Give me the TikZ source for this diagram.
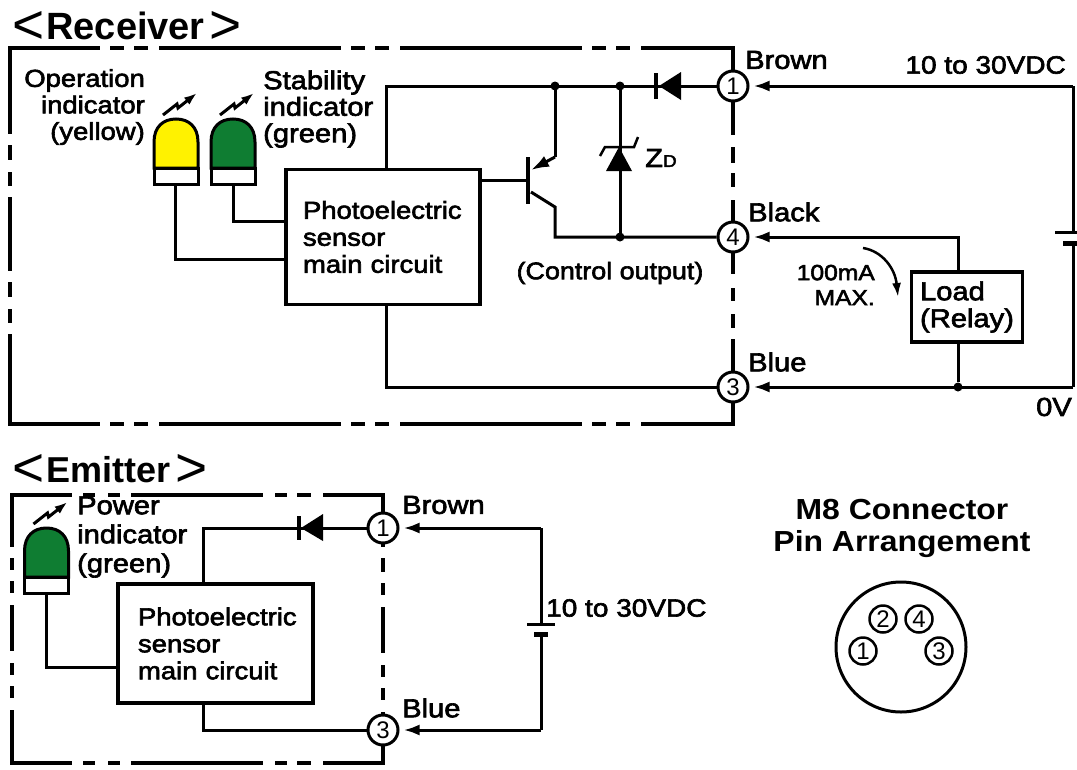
\documentclass[tikz,border=0pt]{standalone}
\usepackage{fontspec}
\setmainfont{Liberation Sans}
\newfontfamily\wide[FakeStretch=1.12,FakeBold=2.5]{Liberation Sans}
\newfontfamily\heavy[FakeStretch=1.1,UprightFont={* Bold}]{Liberation Sans}
\usetikzlibrary{arrows.meta,calc,positioning}
\definecolor{ledgreen}{RGB}{15,125,50}
\tikzset{
        rim/.style = {draw, line width=3.5pt, line cap=rect},
        wire/.style = {draw, line width=3pt},
        feed/.style = {wire, -{Latex[length=16pt,width=11pt]}, shorten >=4pt},
        block/.style = {draw, rectangle, line width=3.5pt, fill=white, align=left,
            font=\wide\fontsize{24.5}{27}\selectfont},
        label/.style = {inner sep=0pt, align=left, font=\wide\fontsize{26}{27}\selectfont},
        title/.style = {inner sep=0pt, font=\bfseries\fontsize{36}{36}\selectfont},
        pin/.style = {draw, circle, line width=3pt, fill=white, inner sep=0pt,
            minimum size=30pt, font=\fontsize{24}{24}\selectfont},
        smallpin/.style = {pin, line width=2.5pt, minimum size=27pt},
        dot/.style = {circle, fill=black, inner sep=0pt, minimum size=9pt},
        pics/lamp/.style = {code={
            \path[draw, line width=3pt, fill=#1] (-22,-16) -- (-22,-42)
                .. controls (-22,-57) and (-13,-65) .. (0,-65)
                .. controls (13,-65) and (22,-57) .. (22,-42) -- (22,-16) -- cycle;
            \path[draw, line width=3pt, fill=white] (-22,-16) rectangle (22,0);
            \draw[line width=3pt, -{Latex[length=13pt,width=9pt]}]
                (-13,-69) -- (1,-80) -- (2,-76) -- (21,-91);
        }},
    }
\newcommand{\angled}[1]{{\mdseries\fontsize{55}{55}\selectfont\raisebox{-4pt}{<}}\hspace{2pt}#1\hspace{5pt}{\mdseries\fontsize{55}{55}\selectfont\raisebox{-4pt}{>}}}

\begin{document}
\begin{tikzpicture}[x=1pt,y=-1pt]
    \useasboundingbox (0,0) rectangle (1077,769);

    % receiver
    \node[title,anchor=west,font=\bfseries\fontsize{38}{38}\selectfont] (rtitle) at (12,27) {\angled{Receiver}};
    \draw[rim, dash pattern=on 84 off 15 on 11 off 16 on 10 off 15 on 70 off 15 on 11 off 16 on 10 off 15 on 200] (10,48) -- (10,424);
    \draw[rim, dash pattern=on 179 off 13 on 11 off 13 on 11 off 14, dash phase=90.75] (10,48) -- (733,48) -- (733,86);
    \draw[rim, dash pattern=on 179 off 13 on 11 off 13 on 11 off 14, dash phase=90.75] (10,424) -- (733,424) -- (733,387);
    \draw[rim, dash pattern=on 47 off 15.5 on 12.5 off 13.5 on 10.5 off 16.5 on 99] (733,86) -- (733,237);
    \draw[rim, dash pattern=on 35 off 17.5 on 9.5 off 16.5 on 10.5 off 14.5 on 99] (733,237) -- (733,387);

    \node[pin] (r1) at (733,86) {1};
    \node[pin] (r4) at (733,237) {4};
    \node[pin] (r3) at (733,387) {3};
    \node[block,minimum width=194pt,minimum height=135pt,text width=160pt] (rmain) at (383,237)
        {Photoelectric\\sensor\\main circuit};
    \path (176,184) pic (lampa) {lamp=yellow};
    \path (233,184) pic (lampb) {lamp=ledgreen};

    \coordinate (rc0) at (386,86);
    \coordinate (rj1) at (555,86);
    \coordinate (rj2) at (620,86);
    \coordinate (rj3) at (620,237);
    \coordinate (rq1) at (528,180);
    \coordinate (rv1) at (1073,86);
    \coordinate (rv2) at (1073,387);
    \node[dot] at (rj1) {};
    \node[dot] at (rj2) {};
    \node[dot] at (rj3) {};
    \node[dot] (rj4) at (958,387) {};

    \draw[wire] (rmain.north -| rc0) -- (rc0) -- (r1);
    \draw[wire] (rmain.south -| rc0) |- (r3);
    \draw[wire] (175,184) |- (rmain.west |- 0,259);
    \draw[wire] (233,184) |- (rmain.west |- 0,221);
    \draw[wire] (rmain.east |- rq1) -- (rq1);
    \draw[line width=4.5pt] (528,157) -- (528,204);
    \draw[wire] (rj1) -- (555,157);
    \draw[wire, -{Latex[length=18pt,width=12pt]}] (555,157) -- (531,170);
    \draw[wire] (531,192) -- (555,207) |- (r4);
    \draw[wire] (rj2) -- (rj3);
    % zener
    \fill (606,171) -- (632,171) -- (619,147) -- cycle;
    \draw[line width=2.5pt] (600,156) -- (605,147) -- (634,147) -- (638,137);
    \node[inner sep=0pt,anchor=west,font=\wide\fontsize{26}{26}\selectfont] (zd) at (645,158) {Z\fontsize{17}{17}\selectfont D};
    % diode
    \fill (681,72) -- (681,100) -- (659,86) -- cycle;
    \draw[line width=3.5pt] (656,73) -- (656,99);

    % supply and load
    \draw[wire] (rv1) -- (1073,232);
    \draw[wire] (1073,243) -- (rv2);
    \draw[wire] (1055,232) -- (1077,232);
    \draw[line width=5pt] (1063,243) -- (1077,243);
    \draw[feed] (rv1) -- (r1);
    \draw[feed] (rv2) -- (r3);
    \node[block,font=\wide\fontsize{26}{27}\selectfont,minimum width=111pt,minimum height=70pt,inner sep=0pt] (load) at (967,307) {Load\\(Relay)};
    \draw[feed] (load.north -| rj4) |- (r4);
    \draw[wire] (load.south -| rj4) -- (rj4);
    \draw[line width=2.5pt, -{Latex[length=14pt,width=9pt]}] (863,248) .. controls (882,251) and (895,268) .. (898,297);

    \node[label,anchor=west] (rbrown) at (745,60) {Brown};
    \node[label,anchor=west] (rblack) at (748,212) {Black};
    \node[label,anchor=west] (rblue) at (748,362) {Blue};
    \node[label,anchor=east,font=\wide\fontsize{25}{26}\selectfont] (rsupply) at (1066,65) {10 to 30VDC};
    \node[label,anchor=east] (rzero) at (1072,407) {0V};
    \node[label,anchor=center,font=\wide\fontsize{24}{26}\selectfont] (rctrl) at (610,273) {(Control output)};
    \node[label,align=right,anchor=east,font=\wide\fontsize{22}{25}\selectfont] (rmax) at (875,285) {100mA\\MAX.};
    \node[label,align=right,anchor=east,font=\wide\fontsize{24.5}{26.5}\selectfont] (rop) at (145,107) {Operation\\indicator\\(yellow)};
    \node[label,anchor=west,font=\wide\fontsize{26}{26.5}\selectfont] (rst) at (263,109) {Stability\\indicator\\(green)};

    % emitter
    \node[title,anchor=west] (etitle) at (12,470) {\angled{Emitter}};
    \draw[rim, dash pattern=on 50 off 14.5 on 8.5 off 14.5 on 8.5 off 15.5 on 42.5 off 15.5 on 8.5 off 14.5 on 8.5 off 15.5 on 99] (12,495) -- (12,763);
    \draw[rim, dash pattern=on 58 off 14.5 on 8.5 off 16.5 on 8.5 off 14.5 on 128.5 off 15.5 on 8.5 off 13.5 on 10.5 off 15.5 on 99] (12,495) -- (383,495) -- (383,528);
    \draw[rim, dash pattern=on 58 off 14.5 on 8.5 off 16.5 on 8.5 off 14.5 on 128.5 off 15.5 on 8.5 off 13.5 on 10.5 off 15.5 on 99] (12,763) -- (383,763) -- (383,730);
    \draw[rim, dash pattern=on 17 off 14.5 on 10.5 off 14.5 on 8.5 off 15.5 on 42.5 off 15.5 on 8.5 off 14.5 on 8.5 off 15.5 on 99] (383,528) -- (383,730);

    \node[pin] (e1) at (383,528) {1};
    \node[pin] (e3) at (383,730) {3};
    \node[block,minimum width=195pt,minimum height=119pt,text width=155pt] (emain) at (215.5,643.5)
        {Photoelectric\\sensor\\main circuit};
    \path (46.5,593) pic (lampc) {lamp=ledgreen};

    \coordinate (ec0) at (203,528);
    \coordinate (ev1) at (541,528);
    \coordinate (ev2) at (541,730);
    \draw[wire] (emain.north -| ec0) -- (ec0) -- (e1);
    \draw[wire] (emain.south -| ec0) |- (e3);
    \draw[wire] (46.5,593) |- (emain.west |- 0,667);
    \fill (323,514) -- (323,541) -- (301,528) -- cycle;
    \draw[line width=3.5pt] (299,516) -- (299,540);

    \draw[wire] (ev1) -- (541,624);
    \draw[wire] (541,634) -- (ev2);
    \draw[wire] (527,624) -- (555,624);
    \draw[line width=5pt] (534,634) -- (548,634);
    \draw[feed] (ev1) -- (e1);
    \draw[feed] (ev2) -- (e3);

    \node[label,anchor=west] (ebrown) at (402,505) {Brown};
    \node[label,anchor=west] (eblue) at (402,708) {Blue};
    \node[label,anchor=west,font=\wide\fontsize{25}{26}\selectfont] (esupply) at (546,608) {10 to 30VDC};
    \node[label,anchor=west,font=\wide\fontsize{26}{29}\selectfont] (epw) at (77,537) {Power\\indicator\\(green)};

    % connector
    \node[label,align=center,font=\heavy\fontsize{29}{32}\selectfont] (mtitle) at (902,528) {M8 Connector\\Pin Arrangement};
    \node[draw,circle,line width=3pt,minimum size=130pt,inner sep=0pt] (shell) at (901,647) {};
    \node[smallpin] (m2) at (883,619) {2};
    \node[smallpin] (m4) at (919,619) {4};
    \node[smallpin] (m1) at (863,651) {1};
    \node[smallpin] (m3) at (939,651) {3};
\end{tikzpicture}
\end{document}
